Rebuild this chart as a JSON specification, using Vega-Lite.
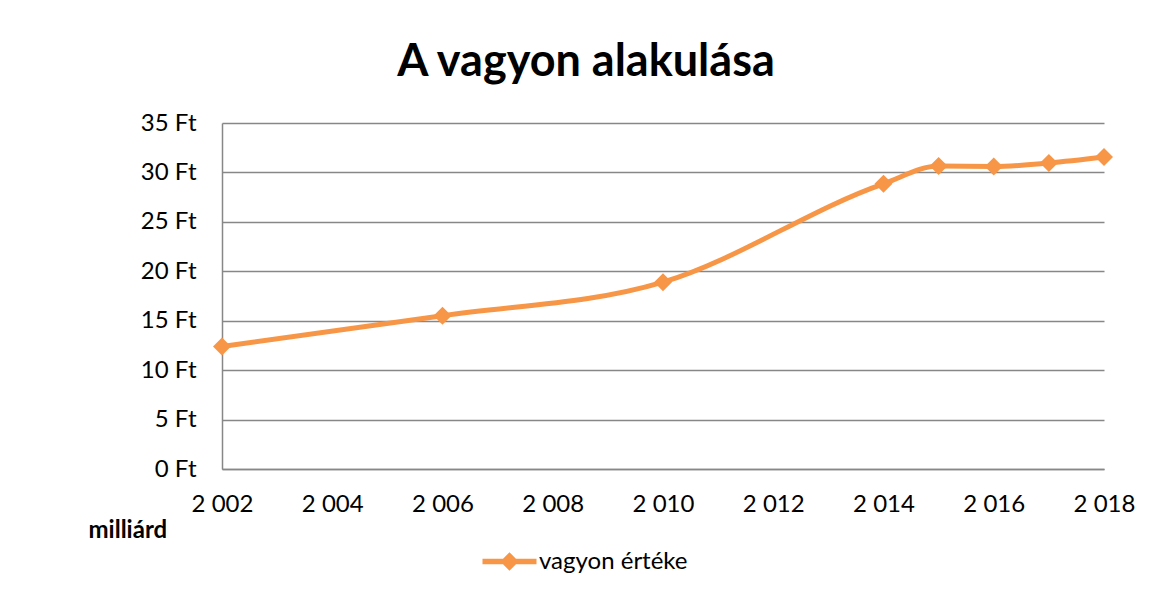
{
  "$schema": "https://vega.github.io/schema/vega-lite/v6.json",
  "width": 882,
  "height": 346,
  "autosize": {"type": "none"},
  "padding": {"left": 222, "top": 123, "right": 53, "bottom": 125},
  "background": "white",
  "title": {"text": "A vagyon alakulása", "font": "Lato", "fontSize": 45, "fontWeight": "bold", "color": "#000000", "anchor": "middle", "offset": 26, "dx": -77},
  "data": {"values": [
    {"year": 2002, "value": 12.4, "series": "vagyon értéke"},
    {"year": 2006, "value": 15.5, "series": "vagyon értéke"},
    {"year": 2010, "value": 18.9, "series": "vagyon értéke"},
    {"year": 2014, "value": 28.85, "series": "vagyon értéke"},
    {"year": 2015, "value": 30.65, "series": "vagyon értéke"},
    {"year": 2016, "value": 30.6, "series": "vagyon értéke"},
    {"year": 2017, "value": 30.95, "series": "vagyon értéke"},
    {"year": 2018, "value": 31.55, "series": "vagyon értéke"}
  ]},
  "config": {
    "view": {"stroke": null},
    "axis": {"labelFont": "Lato", "labelFontSize": 24, "labelColor": "#000000", "domainColor": "#878787", "domainWidth": 1.5, "gridColor": "#878787", "gridWidth": 1.5, "ticks": false}
  },
  "encoding": {
    "x": {
      "field": "year", "type": "quantitative",
      "scale": {"domain": [2002, 2018], "nice": false, "zero": false},
      "axis": {
        "values": [2002, 2004, 2006, 2008, 2010, 2012, 2014, 2016, 2018],
        "labelExpr": "replace(format(datum.value, ','), ',', ' ')",
        "grid": false, "labelPadding": 23, "labelFlush": false,
        "title": "milliárd", "titleFont": "Lato", "titleFontSize": 24, "titleFontWeight": "bold", "titleColor": "#000000",
        "titleAnchor": "start", "titleAlign": "left", "titleBaseline": "middle", "titleX": -134, "titleY": 61
      }
    },
    "y": {
      "field": "value", "type": "quantitative",
      "scale": {"domain": [0, 35], "nice": false},
      "axis": {
        "values": [0, 5, 10, 15, 20, 25, 30, 35],
        "labelExpr": "datum.value + ' Ft'",
        "title": null, "grid": true, "labelPadding": 26
      }
    }
  },
  "layer": [
    {
      "mark": {"type": "line", "interpolate": "monotone", "strokeWidth": 5},
      "encoding": {
        "color": {
          "field": "series", "type": "nominal",
          "scale": {"range": ["#F79646"]},
          "legend": {
            "title": null, "orient": "none", "legendX": 274, "legendY": 425,
            "symbolType": "M-2,-0.2H2V0.2H-2Z M0,-0.68L0.68,0L0,0.68L-0.68,0Z",
            "symbolSize": 729, "symbolFillColor": "#F79646", "symbolStrokeWidth": 0,
            "labelFont": "Lato", "labelFontSize": 24, "labelColor": "#000000", "labelOffset": 16,
            "encode": {"symbols": {"update": {"fill": {"value": "#F79646"}, "strokeWidth": {"value": 0}}}}
          }
        }
      }
    },
    {
      "mark": {"type": "point", "shape": "diamond", "filled": true, "size": 324, "color": "#F79646", "opacity": 1}
    }
  ]
}
